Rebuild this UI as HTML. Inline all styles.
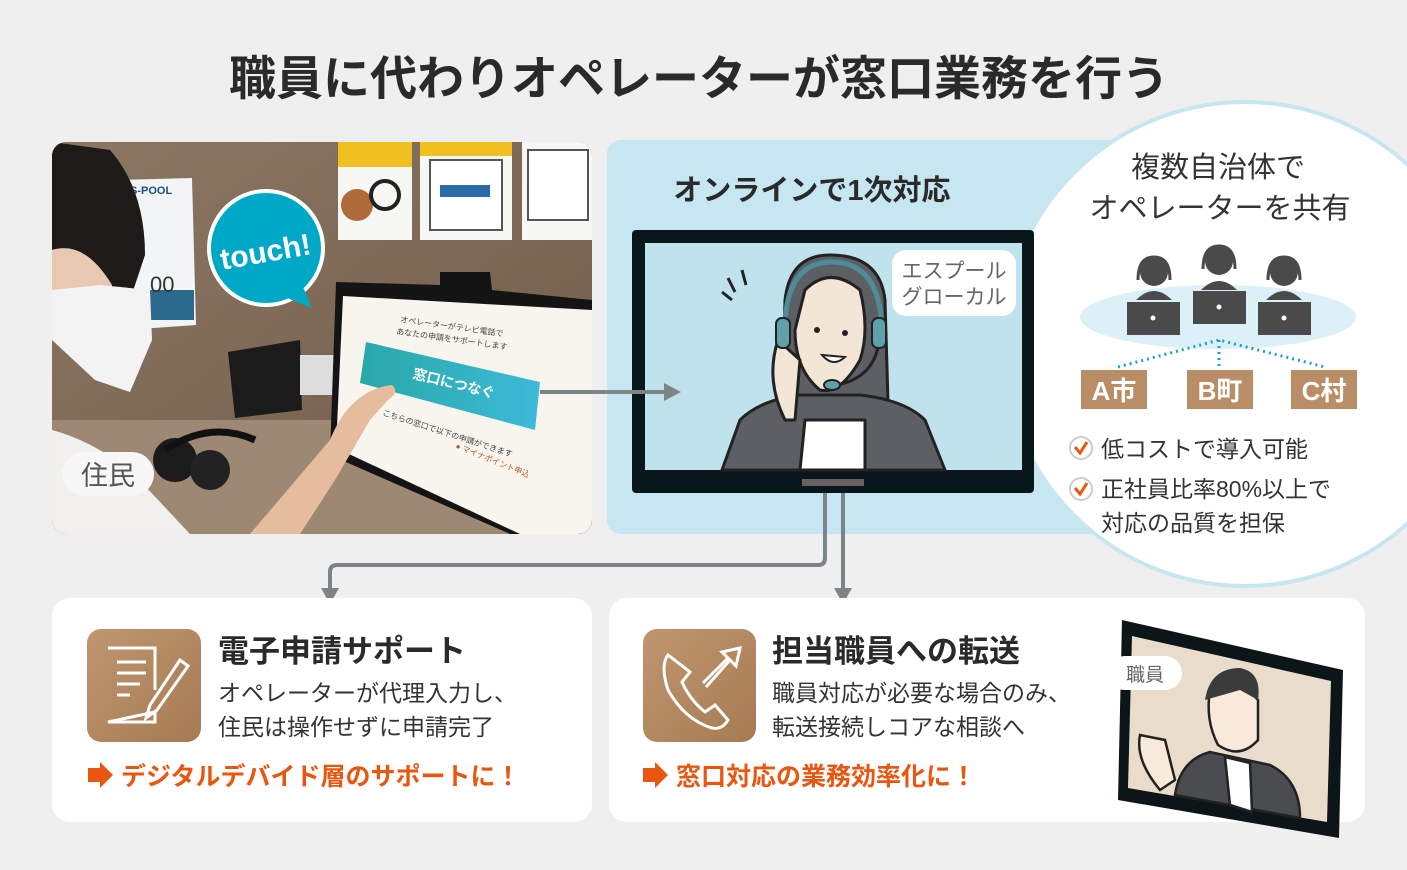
<!DOCTYPE html>
<html><head><meta charset="utf-8">
<style>
body{margin:0;width:1407px;height:870px;background:#efefef;overflow:hidden;font-family:"Liberation Sans","Noto Sans CJK JP",sans-serif;}
svg{position:absolute;left:0;top:0}
</style></head><body>
<svg width="1407" height="870" viewBox="0 0 1407 870" xmlns="http://www.w3.org/2000/svg" font-family="'Liberation Sans','Noto Sans CJK JP',sans-serif">
<defs>
<clipPath id="pc"><rect x="52" y="142" width="540" height="392" rx="14"/></clipPath>
<linearGradient id="wall" x1="0" y1="0" x2="1" y2="1"><stop offset="0" stop-color="#8c7763"/><stop offset="1" stop-color="#6f5b49"/></linearGradient>
<linearGradient id="br" x1="0" y1="0" x2="1" y2="1"><stop offset="0" stop-color="#c09670"/><stop offset="1" stop-color="#a67b52"/></linearGradient>
<linearGradient id="btn" x1="0" y1="0" x2="1" y2="0"><stop offset="0" stop-color="#2aa8a8"/><stop offset="1" stop-color="#3cbad8"/></linearGradient>
</defs>
<text x="699" y="95" text-anchor="middle" font-size="47" font-weight="bold" fill="#2a2a2a">職員に代わりオペレーターが窓口業務を行う</text>

<!-- photo -->
<g clip-path="url(#pc)">
<rect x="52" y="142" width="540" height="392" fill="url(#wall)"/>
<rect x="52" y="420" width="540" height="114" fill="#9c8873"/>
<polygon points="120,180 192,178 196,325 125,330" fill="#f2f4f6"/>
<rect x="150" y="290" width="44" height="30" fill="#2a6a8c"/>
<text x="130" y="194" font-size="11" font-weight="bold" fill="#1d4f7a">S-POOL</text>
<text x="150" y="292" font-size="22" fill="#333">00</text>
<rect x="338" y="142" width="74" height="98" fill="#f7f7f3"/><rect x="338" y="142" width="74" height="25" fill="#f0c020"/>
<rect x="420" y="142" width="92" height="98" fill="#f7f7f3"/><rect x="420" y="142" width="92" height="14" fill="#f0c020"/>
<rect x="430" y="160" width="72" height="70" fill="#fff" stroke="#555" stroke-width="2"/>
<rect x="440" y="185" width="50" height="12" fill="#2a6aa8"/>
<rect x="522" y="142" width="70" height="98" fill="#f7f7f3"/>
<rect x="528" y="150" width="60" height="70" fill="#fff" stroke="#555" stroke-width="2"/>
<circle cx="357" cy="205" r="16" fill="#b06a3a"/><circle cx="385" cy="195" r="14" fill="none" stroke="#222" stroke-width="4"/>
<polygon points="228,352 300,340 302,410 235,418" fill="#1b1b1b"/>
<rect x="300" y="355" width="40" height="40" fill="#ddd"/>
<polygon points="336,282 440,285 440,272 490,272 492,290 592,300 592,534 510,534 330,455" fill="#141414"/>
<polygon points="343,296 592,310 592,534 520,534 336,448" fill="#f8f5ee"/>
<polygon points="366,342 540,382 535,430 360,383" fill="url(#btn)"/>
<text x="412" y="378" font-size="14" font-weight="bold" fill="#fff" transform="rotate(14 412 378)">窓口につなぐ</text>
<text x="400" y="322" font-size="8" fill="#444" transform="rotate(8 400 322)">オペレーターがテレビ電話で</text>
<text x="396" y="334" font-size="8" fill="#444" transform="rotate(8 396 334)">あなたの申請をサポートします</text>
<text x="382" y="415" font-size="8" fill="#444" transform="rotate(18 382 415)">こちらの窓口で以下の申請ができます</text>
<text x="455" y="448" font-size="8" fill="#b05a20" transform="rotate(22 455 448)">● マイナポイント申込</text>
<ellipse cx="175" cy="460" rx="22" ry="22" fill="#1b1b1b"/><ellipse cx="210" cy="470" rx="20" ry="20" fill="#222"/>
<path d="M165,450 Q210,420 255,440" stroke="#111" stroke-width="7" fill="none"/>
<path d="M52,142 L110,150 Q145,190 145,255 L130,300 L52,300 Z" fill="#1d1a18"/>
<path d="M52,250 Q85,240 112,285 L112,300 L52,300 Z" fill="#e8c8b0"/>
<path d="M52,290 L100,285 L150,290 L152,340 L130,392 L95,380 L52,340 Z" fill="#f3f3f3"/>
<path d="M52,430 Q90,440 130,470 L190,534 L52,534 Z" fill="#f2f0ec"/>
<path d="M330,440 Q350,390 392,385 Q400,392 388,400 L370,420 L335,480 L300,534 L250,534 Z" fill="#e6bc9f"/>
<circle cx="266" cy="248" r="59" fill="#fff"/>
<circle cx="266" cy="248" r="55" fill="#00a8c8"/>
<polygon points="280,295 312,308 300,280" fill="#00a8c8"/>
<text x="266" y="262" text-anchor="middle" font-size="30" font-weight="bold" fill="#fff" transform="rotate(-10 266 255)">touch!</text>
<rect x="62" y="452" width="92" height="44" rx="22" fill="#f7f7f7"/>
<text x="108" y="485" text-anchor="middle" font-size="27" fill="#555">住民</text>
</g>

<!-- blue panel -->
<rect x="607" y="140" width="560" height="394" rx="14" fill="#c6e6f1"/>
<text x="812" y="200" text-anchor="middle" font-size="29" font-weight="bold" fill="#2a2a2a">オンラインで1次対応</text>
<circle cx="1245" cy="344" r="242" fill="#fff" stroke="#c6e6f1" stroke-width="4"/>
<text x="1218" y="177" text-anchor="middle" font-size="29" fill="#333">複数自治体で</text>
<text x="1220" y="218" text-anchor="middle" font-size="29" fill="#333">オペレーターを共有</text>
<ellipse cx="1218" cy="317" rx="138" ry="32" fill="#dcf0f8"/>
<g fill="#4a4a4a">
<circle cx="1154" cy="272" r="14"/><path d="M1136,300 Q1154,282 1172,300 Z"/><rect x="1127" y="302" width="53" height="33"/>
<circle cx="1219" cy="261" r="14"/><path d="M1201,290 Q1219,272 1237,290 Z"/><rect x="1193" y="291" width="53" height="33"/>
<circle cx="1284" cy="272" r="14"/><path d="M1266,300 Q1284,282 1302,300 Z"/><rect x="1258" y="302" width="53" height="33"/>
</g>
<g fill="#fff"><circle cx="1153" cy="318" r="2.5"/><circle cx="1219" cy="307" r="2.5"/><circle cx="1284" cy="318" r="2.5"/></g>
<g stroke="#4a4a4a" stroke-width="3" fill="none"><path d="M1138,280 Q1138,257 1154,257 Q1170,257 1170,280"/><path d="M1203,269 Q1203,246 1219,246 Q1235,246 1235,269"/><path d="M1268,280 Q1268,257 1284,257 Q1300,257 1300,280"/></g>
<path d="M1118,367 L1219,340 L1325,367 M1219,340 L1219,367" stroke="#1aa0cc" stroke-width="3" stroke-dasharray="2,4" fill="none"/>
<rect x="1081" y="370" width="66" height="39" fill="#b98e66"/><text x="1114" y="400" text-anchor="middle" font-size="26" font-weight="bold" fill="#fff">A市</text>
<rect x="1187" y="370" width="66" height="39" fill="#b98e66"/><text x="1220" y="400" text-anchor="middle" font-size="26" font-weight="bold" fill="#fff">B町</text>
<rect x="1291" y="370" width="66" height="39" fill="#b98e66"/><text x="1324" y="400" text-anchor="middle" font-size="26" font-weight="bold" fill="#fff">C村</text>
<g><circle cx="1081" cy="448" r="11" fill="#fff" stroke="#ccc" stroke-width="2"/><path d="M1075,447 L1080,453 L1087,442" stroke="#e8560f" stroke-width="3" fill="none"/></g>
<g><circle cx="1081" cy="489" r="11" fill="#fff" stroke="#ccc" stroke-width="2"/><path d="M1075,488 L1080,494 L1087,483" stroke="#e8560f" stroke-width="3" fill="none"/></g>
<text x="1101" y="457" font-size="23" fill="#333">低コストで導入可能</text>
<text x="1101" y="497" font-size="23" fill="#333">正社員比率80%以上で</text>
<text x="1101" y="531" font-size="23" fill="#333">対応の品質を担保</text>

<!-- TV -->
<rect x="632" y="230" width="402" height="263" rx="4" fill="#08171a"/>
<rect x="645" y="243" width="377" height="227" fill="#c0e2ec"/>
<rect x="802" y="479" width="62" height="7" fill="#6a6060"/>
<g stroke="#222" stroke-width="3" stroke-linejoin="round">
<path d="M780,470 L785,300 Q790,255 830,255 Q880,255 885,300 L890,470 Z" fill="#5c5f63"/>
<path d="M722,470 L740,420 Q760,400 800,395 L860,395 Q905,400 925,420 L945,470 Z" fill="#5c5f63"/>
<path d="M805,420 L865,420 L865,470 L800,470 Z" fill="#fff"/>
<path d="M805,290 Q830,265 860,290 Q870,330 860,360 Q840,395 820,390 Q795,370 795,330 Z" fill="#f3e6d6"/>
<path d="M778,340 Q765,380 785,420 L795,420 L800,360 Z" fill="#f3e6d6"/>
</g>
<path d="M785,330 Q785,262 832,262 Q880,262 882,330" stroke="#4e8c98" stroke-width="5" fill="none"/>
<rect x="776" y="318" width="14" height="30" rx="6" fill="#5fa0aa" stroke="#222" stroke-width="2"/>
<rect x="872" y="318" width="14" height="30" rx="6" fill="#5fa0aa" stroke="#222" stroke-width="2"/>
<path d="M878,348 Q870,380 835,385" stroke="#222" stroke-width="3" fill="none"/>
<ellipse cx="832" cy="385" rx="8" ry="5" fill="#5fa0aa" stroke="#222" stroke-width="2"/>
<circle cx="817" cy="330" r="3" fill="#222"/><circle cx="845" cy="333" r="3" fill="#222"/>
<path d="M822,355 Q833,368 845,357 Z" fill="#fff" stroke="#222" stroke-width="2"/>
<path d="M722,292 L732,300 M728,278 L735,292 M742,270 L746,285" stroke="#222" stroke-width="3"/>
<rect x="892" y="250" width="124" height="66" rx="14" fill="#fff"/>
<text x="954" y="278" text-anchor="middle" font-size="21" fill="#666">エスプール</text>
<text x="954" y="304" text-anchor="middle" font-size="21" fill="#666">グローカル</text>

<!-- arrow photo->monitor -->
<line x1="540" y1="392" x2="668" y2="392" stroke="#7d8487" stroke-width="4"/>
<polygon points="664,383 681,392 664,401" fill="#7d8487"/>

<!-- connectors -->
<path d="M825,493 L825,558 Q825,565 818,565 L337,565 Q330,565 330,572 L330,590" stroke="#7d8487" stroke-width="4" fill="none"/>
<polygon points="321,588 330,604 339,588" fill="#7d8487"/>
<line x1="843" y1="493" x2="843" y2="590" stroke="#7d8487" stroke-width="4"/>
<polygon points="834,588 843,604 852,588" fill="#7d8487"/>

<!-- cards -->
<rect x="52" y="598" width="540" height="224" rx="18" fill="#fff"/>
<rect x="609" y="598" width="756" height="224" rx="18" fill="#fff"/>
<rect x="87" y="629" width="114" height="113" rx="14" fill="url(#br)"/>
<g stroke="#fff" stroke-width="3" fill="none"><path d="M108,648 L155,648 L155,690 M155,712 L155,722 L108,722 Z"/><path d="M117,662 L146,662 M117,673 L146,673 M117,684 L140,684 M117,695 L130,695"/><path d="M180,660 L150,705 L146,718 L157,710 L188,666 Z"/></g>
<text x="218" y="662" font-size="31" font-weight="bold" fill="#2a2a2a">電子申請サポート</text>
<text x="218" y="701" font-size="23" fill="#333">オペレーターが代理入力し、</text>
<text x="218" y="735" font-size="23" fill="#333">住民は操作せずに申請完了</text>
<path d="M88,768 L100,768 L100,762 L113,775 L100,788 L100,782 L88,782 Z" fill="#e8560f"/>
<text x="121" y="785" font-size="25" font-weight="bold" fill="#e8560f">デジタルデバイド層のサポートに！</text>

<rect x="643" y="629" width="113" height="113" rx="14" fill="url(#br)"/>
<path d="M668,655 Q660,665 668,690 Q685,720 712,728 Q722,730 728,720 L715,705 L705,712 Q690,700 682,682 L690,672 Z" stroke="#fff" stroke-width="3" fill="none"/>
<path d="M703,683 L728,658 L722,652 L740,648 L736,666 L730,660 L706,687" stroke="#fff" stroke-width="3" fill="none"/>
<text x="772" y="662" font-size="31" font-weight="bold" fill="#2a2a2a">担当職員への転送</text>
<text x="772" y="701" font-size="23" fill="#333">職員対応が必要な場合のみ、</text>
<text x="772" y="735" font-size="23" fill="#333">転送接続しコアな相談へ</text>
<path d="M643,768 L655,768 L655,762 L668,775 L655,788 L655,782 L643,782 Z" fill="#e8560f"/>
<text x="676" y="785" font-size="25" font-weight="bold" fill="#e8560f">窓口対応の業務効率化に！</text>

<polygon points="1122,620 1343,670 1339,838 1118,800" fill="#0c1618"/>
<polygon points="1132,636 1331,681 1327,822 1128,788" fill="#eadccb"/>
<g stroke="#222" stroke-width="2.5">
<path d="M1175,795 Q1180,760 1210,752 L1270,765 Q1300,780 1300,818 Z" fill="#4a4c4f"/>
<path d="M1225,757 L1250,763 L1252,812 L1230,805 Z" fill="#fff"/>
<path d="M1210,690 Q1240,680 1258,700 L1258,740 Q1240,760 1218,745 Q1205,720 1210,690 Z" fill="#f8e9d8"/>
<path d="M1140,735 Q1135,760 1160,790 L1175,780 L1165,740 Z" fill="#f8e9d8"/>
</g>
<path d="M1205,700 Q1210,668 1240,668 Q1262,672 1258,700 L1240,690 Z" fill="#3b3b3b"/>
<rect x="1108" y="656" width="74" height="34" rx="17" fill="#fff"/>
<text x="1145" y="681" text-anchor="middle" font-size="19" fill="#666">職員</text>
</svg>
</body></html>
